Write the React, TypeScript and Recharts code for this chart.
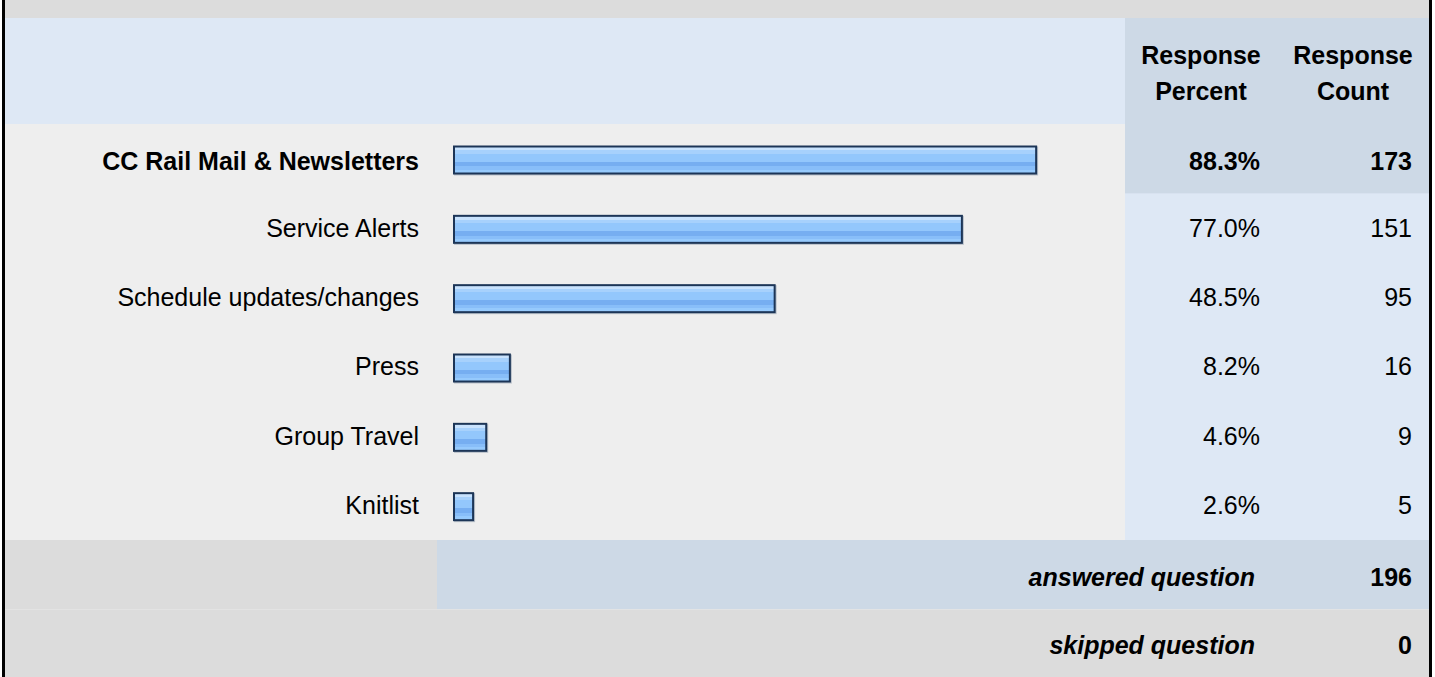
import React from 'react';
import { BarChart, Bar, XAxis, YAxis, LabelList } from 'recharts';

const categories = [
  'CC Rail Mail & Newsletters',
  'Service Alerts',
  'Schedule updates/changes',
  'Press',
  'Group Travel',
  'Knitlist',
];
const percents = [88.3, 77.0, 48.5, 8.2, 4.6, 2.6];
const counts = [173, 151, 95, 16, 9, 5];
const headerPercent = ['Response', 'Percent'];
const headerCount = ['Response', 'Count'];
const footerLabels = ['answered question', 'skipped question'];
const footerValues = [196, 0];

const data = categories.map((name, i) => ({ name, pct: percents[i], count: counts[i] }));
const maxIndex = counts.indexOf(Math.max(...counts));

const W = 1435;
const H = 677;
const FONT = '"Liberation Sans", Arial, Helvetica, sans-serif';
const FS = 25;
const HEADER_TOP = 18;
const ROW_TOP = 124;
const ROW_BOTTOM = 540;
const FOOT_MID = 609.3;
const VAL_COL_X = 1125;
const FOOT_SPLIT_X = 437;
const PCT_RIGHT = 1260;
const CNT_RIGHT = 1412;
const LEFT_IN = 5;
const RIGHT_IN = 1429;
const ROW_H = (ROW_BOTTOM - ROW_TOP) / categories.length;

const C_TOP = '#dcdcdc';
const C_LIGHT = '#dee8f5';
const C_DARK = '#cdd9e6';
const C_ROW = '#eeeeee';
const C_BORDER = '#1c3557';

const Underlay = () => (
  <svg width={W} height={H} style={{ position: 'absolute', left: 0, top: 0 }}>
    <rect x={0} y={0} width={W} height={H} fill="#ffffff" />
    <rect x={LEFT_IN} y={0} width={RIGHT_IN - LEFT_IN} height={HEADER_TOP} fill={C_TOP} />
    <rect x={LEFT_IN} y={HEADER_TOP} width={VAL_COL_X - LEFT_IN} height={ROW_TOP - HEADER_TOP} fill={C_LIGHT} />
    <rect x={VAL_COL_X} y={HEADER_TOP} width={RIGHT_IN - VAL_COL_X} height={ROW_TOP - HEADER_TOP} fill={C_DARK} />
    <rect x={LEFT_IN} y={ROW_TOP} width={VAL_COL_X - LEFT_IN} height={ROW_BOTTOM - ROW_TOP} fill={C_ROW} />
    <rect x={VAL_COL_X} y={ROW_TOP} width={RIGHT_IN - VAL_COL_X} height={ROW_BOTTOM - ROW_TOP} fill={C_LIGHT} />
    <rect x={VAL_COL_X} y={ROW_TOP + maxIndex * ROW_H} width={RIGHT_IN - VAL_COL_X} height={ROW_H} fill={C_DARK} />
    <rect x={LEFT_IN} y={ROW_BOTTOM} width={FOOT_SPLIT_X - LEFT_IN} height={FOOT_MID - ROW_BOTTOM} fill={C_TOP} />
    <rect x={FOOT_SPLIT_X} y={ROW_BOTTOM} width={RIGHT_IN - FOOT_SPLIT_X} height={FOOT_MID - ROW_BOTTOM} fill={C_DARK} />
    <rect x={LEFT_IN} y={FOOT_MID} width={RIGHT_IN - LEFT_IN} height={H - FOOT_MID} fill={C_TOP} />
    <rect x={2} y={0} width={3} height={H} fill="#000000" />
    <rect x={RIGHT_IN} y={0} width={3} height={H} fill="#000000" />

    {headerPercent.map((t, i) => (
      <text key={'hp' + i} x={1201} y={63.5 + i * 36.7} textAnchor="middle" fontFamily={FONT} fontSize={FS} fontWeight="bold" fill="#000">{t}</text>
    ))}
    {headerCount.map((t, i) => (
      <text key={'hc' + i} x={1353} y={63.5 + i * 36.7} textAnchor="middle" fontFamily={FONT} fontSize={FS} fontWeight="bold" fill="#000">{t}</text>
    ))}
    {footerLabels.map((t, i) => {
      const top = i === 0 ? ROW_BOTTOM : FOOT_MID;
      const bottom = i === 0 ? FOOT_MID : H;
      const base = (top + bottom) / 2 + 11.3;
      return (
        <g key={'f' + i}>
          <text x={1255} y={base} textAnchor="end" fontFamily={FONT} fontSize={FS} fontWeight="bold" fontStyle="italic" fill="#000">{t}</text>
          <text x={CNT_RIGHT} y={base} textAnchor="end" fontFamily={FONT} fontSize={FS} fontWeight="bold" fill="#000">{footerValues[i]}</text>
        </g>
      );
    })}
  </svg>
);

const CategoryTick = (props: any) => {
  const { x, y, payload } = props;
  const idx = payload.index ?? categories.indexOf(payload.value);
  const bold = idx === maxIndex;
  return (
    <text x={x} y={y + (bold ? 11.3 : 8.7)} textAnchor="end" fontFamily={FONT} fontSize={FS} fontWeight={bold ? 'bold' : 'normal'} fill="#000">
      {payload.value}
    </text>
  );
};

const StripedBar = (props: any) => {
  const { x, y, width, height } = props;
  if (width == null || height == null) return null;
  const yy = y + 1.5;
  return (
    <g>
      <rect x={x - 1} y={yy - 1} width={width + 4} height={height + 4} fill="#b9c0c9" />
      <rect x={x - 2} y={yy - 2} width={width + 4} height={height + 4} fill={C_BORDER} />
      <rect x={x} y={yy} width={width} height={height} fill="url(#stripes)" />
    </g>
  );
};

const makeValueLabel = (kind: 'pct' | 'count') => (props: any) => {
  const vb = props.viewBox && props.viewBox.y != null ? props.viewBox : props;
  const cy = vb.y + vb.height / 2;
  const idx = props.index;
  const bold = idx === maxIndex;
  const v = props.value;
  const txt = kind === 'pct' ? `${Number(v).toFixed(1)}%` : String(v);
  return (
    <text x={kind === 'pct' ? PCT_RIGHT : CNT_RIGHT} y={cy + (bold ? 11.3 : 8.7)} textAnchor="end" fontFamily={FONT} fontSize={FS} fontWeight={bold ? 'bold' : 'normal'} fill="#000">
      {txt}
    </text>
  );
};

export default function App() {
  return (
    <div style={{ position: 'absolute', left: 0, top: 0, width: W, height: H, overflow: 'hidden' }}>
      <Underlay />
      <div style={{ position: 'absolute', left: 0, top: 0 }}>
        <BarChart
          width={W}
          height={H}
          data={data}
          layout="vertical"
          margin={{ top: ROW_TOP, right: W - 455 - 657, bottom: H - ROW_BOTTOM, left: 0 }}
        >
          <defs>
            <linearGradient id="stripes" x1="0" y1="0" x2="0" y2="1">
              <stop offset="0" stopColor="#c8e2fd" />
              <stop offset="0.107" stopColor="#c8e2fd" />
              <stop offset="0.107" stopColor="#a7d1fc" />
              <stop offset="0.24" stopColor="#a7d1fc" />
              <stop offset="0.24" stopColor="#93c7fc" />
              <stop offset="0.56" stopColor="#93c7fc" />
              <stop offset="0.56" stopColor="#76aef1" />
              <stop offset="0.747" stopColor="#76aef1" />
              <stop offset="0.747" stopColor="#88bef9" />
              <stop offset="0.88" stopColor="#88bef9" />
              <stop offset="0.88" stopColor="#96cafd" />
              <stop offset="1" stopColor="#96cafd" />
            </linearGradient>
          </defs>
          <XAxis type="number" domain={[0, 100]} hide />
          <YAxis
            type="category"
            dataKey="name"
            width={455}
            axisLine={false}
            tickLine={false}
            tickSize={0}
            tickMargin={36}
            interval={0}
            tick={<CategoryTick />}
          />
          <Bar dataKey="pct" barSize={25} isAnimationActive={false} shape={<StripedBar />}>
            <LabelList dataKey="pct" content={makeValueLabel('pct')} />
            <LabelList dataKey="count" content={makeValueLabel('count')} />
          </Bar>
        </BarChart>
      </div>
    </div>
  );
}
